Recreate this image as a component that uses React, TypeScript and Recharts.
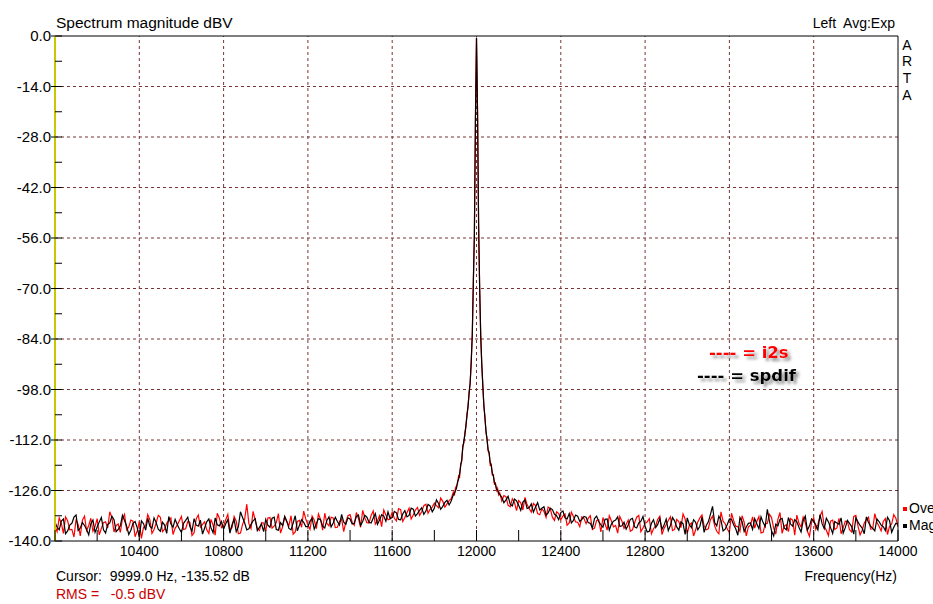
import React from 'react';
import { LineChart, Line, XAxis, YAxis, ReferenceLine } from 'recharts';

// spectrum samples, dBV. noise floor sampled every 10 Hz (two interleaved lists), tone region every 5 Hz
const range = (a: number, b: number, s: number) =>
  Array.from({ length: Math.round((b - a) / s) + 1 }, (_, i) => a + i * s);

const lowFreqs = range(10000, 11880, 10);
const peakFreqs = range(11890, 12110, 5);
const highFreqs = range(12120, 14000, 10);

// 10000..11880 every 20 Hz
const blackLow = [
  -134.8, -136.9, -133.9, -137.2, -135.1, -132.8, -136.4, -135.7, -138.3, -134.2,
  -136.1, -133.5, -137.8, -135.0, -134.1, -136.8, -132.9, -135.9, -137.0, -134.6,
  -138.9, -135.2, -133.7, -136.5, -134.9, -137.3, -135.6, -133.2, -136.2, -135.4,
  -137.6, -134.3, -136.0, -133.8, -135.9, -138.1, -134.7, -136.3, -133.6, -135.8,
  -136.7, -134.1, -135.5, -137.4, -131.9, -135.0, -136.6, -134.4, -137.1, -135.3,
  -134.0, -136.2, -133.4, -137.0, -135.7, -134.5, -136.9, -133.0, -135.6, -134.8,
  -136.0, -133.7, -135.2, -134.1, -136.4, -133.3, -135.0, -134.6, -132.6, -135.4,
  -133.9, -135.1, -132.8, -134.6, -133.4, -135.0, -132.4, -134.2, -133.1, -131.9,
  -133.5, -132.2, -134.1, -131.6, -132.9, -131.2, -132.4, -130.8, -131.7, -130.3,
  -130.9, -129.6, -130.4, -128.7, -128.9,
];
// 10010..11870 every 20 Hz
const blackLowMid = [
  -136.2, -134.5, -138.0, -135.6, -133.4, -137.1, -134.9, -136.8, -135.2, -137.6,
  -134.7, -136.9, -135.4, -133.1, -137.4, -135.8, -134.3, -138.2, -135.1, -136.3,
  -134.4, -137.0, -135.9, -133.6, -136.7, -134.8, -137.9, -135.3, -134.0, -136.6,
  -135.1, -133.4, -137.3, -135.6, -134.2, -136.4, -133.9, -137.7, -135.5, -134.6,
  -135.2, -137.8, -134.0, -136.1, -133.5, -136.9, -135.4, -133.8, -136.2, -137.4,
  -135.6, -133.7, -136.8, -134.9, -133.2, -136.5, -135.0, -137.2, -134.1, -136.0,
  -134.5, -136.7, -133.8, -135.9, -134.3, -136.1, -133.4, -135.6, -134.8, -133.6,
  -135.3, -133.2, -135.7, -132.9, -134.8, -133.6, -135.4, -132.7, -134.5, -133.8,
  -131.8, -134.0, -132.5, -133.3, -130.9, -133.1, -131.5, -132.6, -129.9, -131.9,
  -128.6, -131.2, -129.3, -130.0,
];
const redLow = [
  -135.9, -133.6, -137.9, -134.4, -136.8, -134.0, -138.6, -133.1, -135.7, -137.3,
  -133.8, -136.5, -134.7, -131.9, -137.5, -135.3, -133.9, -136.9, -134.2, -138.8,
  -134.6, -136.2, -132.7, -137.9, -135.0, -133.4, -136.7, -134.3, -138.2, -135.6,
  -133.2, -136.6, -134.8, -137.7, -132.8, -135.4, -136.9, -134.0, -138.4, -133.7,
  -135.8, -132.6, -136.3, -134.5, -137.8, -133.9, -135.2, -131.8, -136.4, -134.9,
  -137.2, -133.5, -135.9, -132.4, -136.1, -134.8, -133.0, -137.5, -134.3, -131.7,
  -135.5, -133.1, -136.6, -134.0, -132.3, -135.8, -133.6, -136.2, -133.9, -134.7,
  -132.7, -135.6, -133.8, -131.5, -134.9, -132.9, -135.3, -133.0, -131.4, -134.1,
  -132.0, -134.4, -131.3, -133.5, -130.9, -132.8, -130.7, -131.9, -129.8, -131.2,
  -129.5, -130.8, -129.0, -129.7, -128.3,
];
const redLowMid = [
  -137.4, -135.1, -133.3, -136.9, -138.9, -135.5, -134.2, -137.1, -133.7, -136.0,
  -138.3, -134.9, -136.4, -133.5, -135.7, -137.6, -132.6, -136.1, -134.5, -137.2,
  -139.3, -135.8, -134.1, -136.8, -132.9, -137.4, -135.1, -133.6, -136.5, -134.4,
  -136.8, -134.6, -138.5, -133.9, -136.2, -134.7, -137.9, -135.6, -132.3, -136.3,
  -134.1, -136.9, -133.2, -138.0, -135.4, -129.8, -136.6, -134.3, -137.1, -135.0,
  -133.6, -136.4, -134.9, -137.8, -133.3, -135.7, -138.1, -134.6, -136.2, -133.9,
  -136.8, -134.2, -132.5, -137.0, -135.1, -133.4, -136.3, -134.6, -137.4, -133.0,
  -134.8, -132.1, -136.2, -133.6, -135.0, -131.7, -134.4, -136.0, -132.8, -133.9,
  -133.7, -131.0, -134.6, -132.2, -133.9, -131.4, -132.9, -130.2, -132.3, -130.6,
  -130.2, -128.1, -130.6, -128.8,
];
// 11890..12110 every 5 Hz
const blackPeak = [
  -127.2, -126.8, -126.1, -125.4, -123.6, -122.9, -121.3, -119.2, -117.4, -114.1,
  -112.3, -110.6, -107.8, -105.2, -102.4, -99.1, -96.0, -90.5, -82.6, -68.3,
  -55.0, -23.0, -0.5, -21.5, -52.4, -70.1, -83.2, -90.8, -97.1, -102.3,
  -105.9, -109.4, -112.0, -114.6, -115.8, -118.3, -119.1, -121.2, -122.0, -123.8,
  -124.3, -125.6, -125.9, -126.7, -127.1,
];
const redPeak = [
  -126.5, -127.4, -125.3, -124.8, -124.1, -121.9, -122.2, -118.6, -117.9, -113.5,
  -112.9, -109.8, -108.3, -104.6, -102.9, -98.5, -96.4, -89.9, -83.1, -67.9,
  -54.6, -22.5, -0.5, -21.0, -52.0, -69.6, -82.7, -91.3, -96.6, -102.8,
  -105.4, -110.0, -111.5, -115.1, -115.3, -118.9, -118.7, -121.7, -121.6, -124.2,
  -123.9, -126.0, -125.4, -127.2, -126.6,
];
// 12120..14000 every 20 Hz
const blackHigh = [
  -127.9, -128.6, -129.8, -128.4, -130.1, -129.2, -131.0, -129.7, -130.6, -131.4,
  -130.5, -132.2, -131.3, -133.0, -132.1, -133.6, -132.4, -134.3, -133.1, -134.0,
  -133.4, -135.1, -133.8, -134.6, -136.2, -133.9, -135.3, -134.2, -136.0, -134.8,
  -135.6, -133.7, -136.4, -134.5, -135.9, -137.3, -134.1, -135.4, -136.8, -133.9,
  -135.7, -134.4, -137.0, -135.2, -133.6, -136.3, -134.8, -135.9, -137.6, -134.7,
  -130.4, -135.8, -134.2, -136.7, -133.9, -135.5, -138.4, -134.6, -136.1, -135.0,
  -133.8, -136.6, -134.9, -131.2, -137.2, -135.3, -134.0, -136.4, -133.5, -135.9,
  -134.7, -137.5, -133.1, -135.8, -134.5, -136.9, -135.2, -133.7, -136.3, -134.6,
  -135.4, -137.8, -134.3, -136.0, -133.6, -135.7, -138.0, -134.9, -136.5, -133.9,
  -135.6, -137.1, -134.4, -136.2, -135.3,
];
// 12130..13990 every 20 Hz
const blackHighMid = [
  -129.4, -127.6, -130.3, -128.9, -131.5, -128.6, -130.8, -132.0, -129.4, -130.9,
  -132.8, -130.9, -132.6, -134.1, -131.7, -133.9, -135.0, -132.8, -134.6, -133.2,
  -134.9, -136.4, -133.1, -135.5, -134.0, -137.0, -134.5, -133.3, -135.8, -136.7,
  -134.0, -136.1, -135.0, -133.2, -137.5, -135.1, -136.3, -133.8, -135.6, -137.1,
  -133.5, -136.1, -134.7, -138.2, -135.5, -134.1, -136.9, -133.4, -135.7, -132.6,
  -134.9, -133.1, -137.2, -135.4, -134.0, -136.6, -133.5, -137.4, -135.1, -136.8,
  -135.2, -133.3, -136.0, -134.5, -138.6, -135.8, -133.7, -136.9, -135.3, -134.1,
  -136.2, -134.4, -137.0, -133.9, -135.6, -132.7, -136.6, -134.7, -137.9, -135.0,
  -133.6, -136.3, -135.1, -138.1, -134.7, -136.4, -133.3, -135.9, -137.2, -134.6,
  -136.0, -133.4, -137.6, -135.1,
];
const redHigh = [
  -128.9, -127.7, -130.5, -129.3, -128.8, -131.4, -129.9, -132.0, -130.2, -132.7,
  -131.8, -130.6, -133.4, -131.9, -134.1, -132.5, -135.0, -133.2, -134.8, -133.3,
  -135.2, -133.0, -136.4, -134.1, -133.5, -137.0, -134.4, -135.7, -133.2, -136.5,
  -134.2, -136.9, -133.4, -137.4, -135.1, -133.8, -136.6, -134.0, -138.2, -135.5,
  -133.3, -136.8, -134.6, -132.5, -137.9, -135.0, -136.9, -133.6, -135.8, -136.6,
  -133.1, -137.3, -131.9, -135.2, -137.7, -134.3, -136.0, -133.0, -138.6, -135.6,
  -136.4, -133.2, -137.6, -135.1, -133.5, -138.1, -132.1, -135.9, -137.4, -134.2,
  -132.8, -136.1, -134.9, -138.7, -133.6, -135.4, -131.8, -137.0, -134.5, -136.8,
  -133.7, -136.3, -134.6, -137.5, -132.9, -138.3, -135.0, -133.4, -136.6, -134.8,
  -137.2, -133.8, -135.9, -132.7, -136.1,
];
const redHighMid = [
  -127.4, -130.1, -128.3, -131.6, -129.4, -127.9, -131.0, -129.6, -132.4, -131.1,
  -133.5, -131.0, -134.3, -132.4, -133.1, -135.6, -132.0, -134.7, -136.0, -133.8,
  -133.7, -136.8, -134.3, -137.5, -135.2, -133.0, -136.1, -137.8, -134.5, -135.4,
  -137.3, -135.0, -132.9, -136.4, -134.7, -138.0, -135.8, -133.1, -136.5, -134.3,
  -137.1, -134.0, -136.3, -133.9, -135.6, -138.6, -134.7, -132.8, -136.9, -134.1,
  -135.8, -138.0, -134.5, -136.7, -132.3, -135.9, -137.3, -134.8, -136.1, -133.3,
  -134.6, -137.8, -135.3, -132.6, -136.4, -134.0, -137.9, -135.5, -133.8, -138.4,
  -135.1, -133.4, -137.3, -134.8, -136.8, -133.1, -135.9, -138.5, -134.2, -136.4,
  -138.0, -134.5, -136.9, -133.2, -135.8, -137.0, -134.1, -136.7, -132.4, -135.9,
  -134.6, -138.2, -135.3, -133.7,
];

const xTicks = range(10000, 14000, 200);
const xLabels = [10400, 10800, 11200, 11600, 12000, 12400, 12800, 13200, 13600, 14000];
const xGrid = [10400, 10800, 11200, 11600, 12000, 12400, 12800, 13200, 13600];
const yTicks = range(-140, 0, 7);
const yGrid = [-14, -28, -42, -56, -70, -84, -98, -112, -126];

// merge the 20 Hz lists with their 10 Hz offsets
const interleave = (a: number[], b: number[]) => a.flatMap((v, i) => (i < b.length ? [v, b[i]] : [v]));

const freqs = [...lowFreqs, ...peakFreqs, ...highFreqs];
const redDb = [...interleave(redLow, redLowMid), ...redPeak, ...interleave(redHigh, redHighMid)];
const blackDb = [...interleave(blackLow, blackLowMid), ...blackPeak, ...interleave(blackHigh, blackHighMid)];
const data = freqs.map((f, i) => ({ f, red: redDb[i], black: blackDb[i] }));

const FONT = '"Liberation Sans", Arial, sans-serif';
const GRID = '#7a3434';

const YTick = (props: any) => {
  const { y, payload } = props;
  const v = payload.value as number;
  const major = v % 14 === 0;
  return (
    <g>
      {major && (
        <text x={51} y={y + 5} textAnchor="end" fontSize={15} fontFamily={FONT} fill="#000">
          {v.toFixed(1)}
        </text>
      )}
      <line x1={major ? 51 : 55} x2={62} y1={y} y2={y} stroke="#000" />
    </g>
  );
};

const XTick = (props: any) => {
  const { x, payload } = props;
  const v = payload.value as number;
  return (
    <g>
      <line x1={x} x2={x} y1={530} y2={541} stroke="#000" />
      {xLabels.includes(v) && (
        <text x={x} y={556} textAnchor="middle" fontSize={14} fontFamily={FONT} fill="#000">
          {v}
        </text>
      )}
    </g>
  );
};

export default function App() {
  return (
    <div style={{ position: 'absolute', left: 0, top: 0, width: 933, height: 604, background: '#fff', overflow: 'hidden' }}>
      <LineChart width={933} height={604} data={data} margin={{ top: 36, right: 35, left: 0, bottom: 0 }}>
        <XAxis
          dataKey="f"
          type="number"
          domain={[10000, 14000]}
          ticks={xTicks}
          tick={XTick}
          interval={0}
          axisLine={false}
          tickLine={false}
          height={63}
          allowDataOverflow
        />
        <YAxis
          type="number"
          domain={[-140, 0]}
          ticks={yTicks}
          tick={YTick}
          interval={0}
          axisLine={false}
          tickLine={false}
          width={55}
          allowDataOverflow
        />
        {yGrid.map((v) => (
          <ReferenceLine key={'y' + v} y={v} stroke={GRID} strokeDasharray="3 3" />
        ))}
        {xGrid.map((v) => (
          <ReferenceLine key={'x' + v} x={v} stroke={GRID} strokeDasharray="3 3" />
        ))}
        <Line type="linear" dataKey="red" stroke="#ff0000" strokeWidth={1.2} dot={false} activeDot={false} isAnimationActive={false} />
        <Line type="linear" dataKey="black" stroke="#000000" strokeWidth={1.2} dot={false} activeDot={false} isAnimationActive={false} />
        <ReferenceLine y={0} stroke="#000" />
        <ReferenceLine y={-140} stroke="#000" />
        <ReferenceLine x={14000} stroke="#000" />
        <ReferenceLine x={10000} stroke="#c8c800" strokeWidth={2} />
      </LineChart>
      <svg width={933} height={604} style={{ position: 'absolute', left: 0, top: 0, pointerEvents: 'none' }}>
        <defs>
          <filter id="shadow" x="-20%" y="-50%" width="140%" height="200%">
            <feDropShadow dx="3" dy="3" stdDeviation="1.5" floodColor="#777" floodOpacity="0.8" />
          </filter>
        </defs>
        <g fontFamily={FONT} fontSize={14} fill="#000">
          <text x={56} y={28} fontSize={15.5}>Spectrum magnitude dBV</text>
          <text x={895} y={28} textAnchor="end" xmlSpace="preserve">Left  Avg:Exp</text>
          <text x={907} y={50} textAnchor="middle">A</text>
          <text x={907} y={66} textAnchor="middle">R</text>
          <text x={907} y={83} textAnchor="middle">T</text>
          <text x={907} y={100} textAnchor="middle">A</text>
          <text x={56} y={581} xmlSpace="preserve">Cursor:  9999.0 Hz, -135.52 dB</text>
          <text x={56} y={599} fill="#cc0000" xmlSpace="preserve">RMS =   -0.5 dBV</text>
          <text x={897} y={581} textAnchor="end">Frequency(Hz)</text>
          <rect x={903} y={507} width={4} height={4} fill="#ff0000" />
          <text x={909} y={513}>Ove</text>
          <rect x={903} y={524} width={4} height={4} fill="#000" />
          <text x={909} y={530}>Mag</text>
        </g>
        <g fontFamily='"DejaVu Sans", Verdana, sans-serif' fontWeight="bold" fontSize={16.5} filter="url(#shadow)">
          <text x={709} y={358} fill="#ff0000">---- = i2s</text>
          <text x={697} y={381} fill="#000">---- = spdif</text>
        </g>
      </svg>
    </div>
  );
}
